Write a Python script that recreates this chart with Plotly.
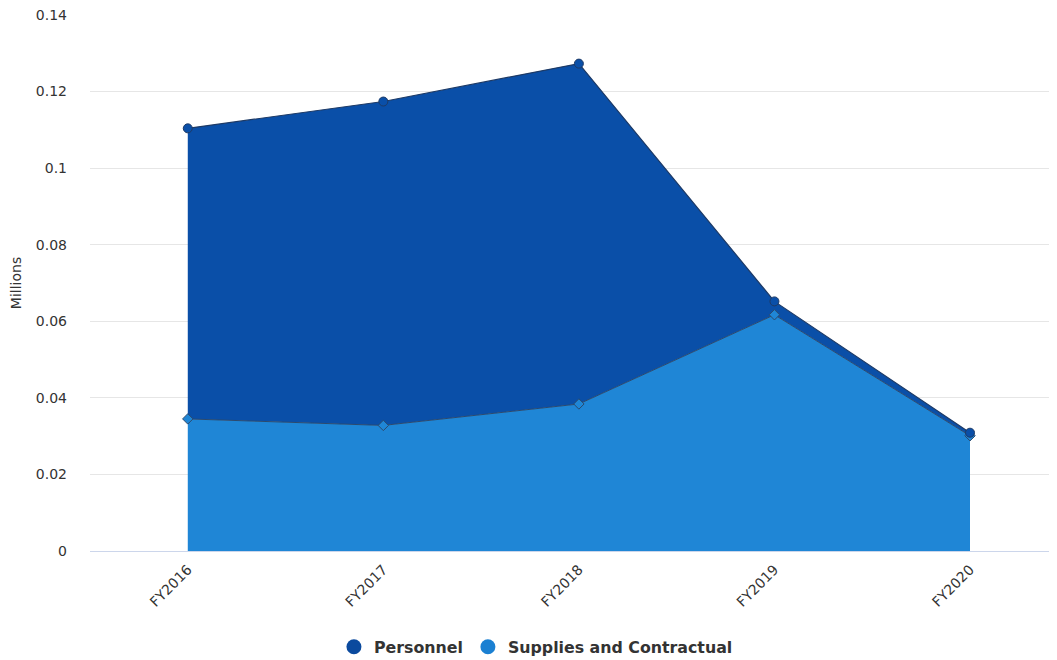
import plotly.graph_objects as go

categories = ["FY2016", "FY2017", "FY2018", "FY2019", "FY2020"]
supplies = [0.0345, 0.0328, 0.0384, 0.0617, 0.0301]
personnel = [0.0759, 0.0846, 0.0889, 0.0035, 0.0008]
y_ticks = [0, 0.02, 0.04, 0.06, 0.08, 0.1, 0.12, 0.14]
y_ticktext = ["0", "0.02", "0.04", "0.06", "0.08", "0.1", "0.12", "0.14"]

c_pers = "#0a4fa8"
c_sup = "#1f86d6"

fig = go.Figure()
fig.add_trace(go.Scatter(
    x=categories, y=supplies, name="Supplies and Contractual",
    stackgroup="one", mode="lines+markers",
    line=dict(color="#2b4a6e", width=1),
    fillcolor=c_sup,
    marker=dict(symbol="diamond", size=8, color=c_sup, line=dict(color="#2b4a6e", width=1)),
    showlegend=False,
))
fig.add_trace(go.Scatter(
    x=categories, y=personnel, name="Personnel",
    stackgroup="one", mode="lines+markers",
    line=dict(color="#1d3a66", width=1.2),
    fillcolor=c_pers,
    marker=dict(symbol="circle", size=9, color=c_pers, line=dict(color="#1d3a66", width=1)),
    showlegend=False,
))
# legend entries
fig.add_trace(go.Scatter(x=[None], y=[None], mode="markers", name="Personnel",
                         marker=dict(symbol="circle", size=15, color="#0b4a9e")))
fig.add_trace(go.Scatter(x=[None], y=[None], mode="markers", name="Supplies and Contractual",
                         marker=dict(symbol="circle", size=15, color="#1b80d2")))

fig.update_layout(
    width=1041, height=660,
    margin=dict(l=82, r=0, t=7, b=117, autoexpand=False),
    paper_bgcolor="white", plot_bgcolor="white",
    font=dict(family="DejaVu Sans", color="#333333", size=14),
    showlegend=True,
    legend=dict(orientation="h", x=0.465, xanchor="center", y=-0.179, yanchor="middle",
                traceorder="normal",
                font=dict(size=15.8, color="#333333", family="DejaVu Sans", weight="bold"),
                itemsizing="trace", itemwidth=30),
    xaxis=dict(range=[-0.5, 4.404], showgrid=False, tickangle=-45, automargin=False,
               showline=True, linecolor="#ccd6eb", linewidth=1, ticklabelstandoff=4,
               ticks="", tickfont=dict(size=14, color="#333333"), zeroline=False),
    yaxis=dict(range=[0, 0.14], tickvals=y_ticks, ticktext=y_ticktext, automargin=False,
               ticklabeloverflow="allow",
               showgrid=True, gridcolor="#e6e6e6", gridwidth=1, zeroline=False,
               tickfont=dict(size=14, color="#333333"), ticklabelstandoff=22,
               title=dict(text="Millions", font=dict(size=14, color="#333333"), standoff=14)),
)

fig.write_html("out.html")
